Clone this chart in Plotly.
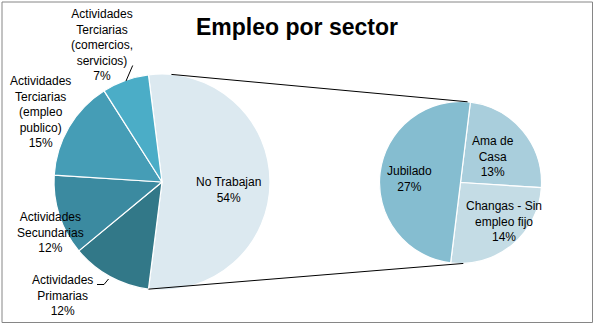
import math
import plotly.graph_objects as go

W, H = 595, 326

# ---- data ----
title_text = "Empleo por sector"
other_name = "No Trabajan"
main_names = ["Actividades<br>Primarias",
              "Actividades<br>Secundarias",
              "Actividades<br>Terciarias<br>(empleo<br>publico)",
              "Actividades<br>Terciarias<br>(comercios,<br>servicios)"]
main_values = [12, 12, 15, 7]
sub_names = ["Ama de<br>Casa", "Changas - Sin<br>empleo fijo", "Jubilado"]
sub_values = [13, 14, 27]

# ---- styles ----
left_colors = ["#DCE9F0", "#327888", "#3B8AA0", "#459DB6", "#4BADC7"]
right_colors = ["#A9CEDC", "#C4DCE5", "#85BDD0"]
FONT = "Liberation Sans, Arial, sans-serif"

other_value = sum(sub_values)
left_names = [other_name] + main_names
left_values = [other_value] + main_values
total = sum(left_values)

# pie geometry (pixels)
L_cx, L_cy, L_r = 162, 182, 108
R_cx, R_cy, R_r = 460.5, 182.5, 81
L_rot = 90 - other_value / total * 360 / 2
R_rot = 7


def px(x):
    return x / W


def py(y):
    return 1 - y / H


def dom(cx, cy, r):
    return dict(x=[px(cx - r), px(cx + r)], y=[py(cy + r), py(cy - r)])


fig = go.Figure()
fig.add_trace(go.Pie(
    labels=left_names, values=left_values, sort=False, direction="clockwise",
    rotation=L_rot, domain=dom(L_cx, L_cy, L_r), textinfo="none",
    marker=dict(colors=left_colors, line=dict(color="white", width=1.2)),
    showlegend=False, hoverinfo="label+percent"))
fig.add_trace(go.Pie(
    labels=sub_names, values=sub_values, sort=False, direction="clockwise",
    rotation=R_rot, domain=dom(R_cx, R_cy, R_r), textinfo="none",
    marker=dict(colors=right_colors, line=dict(color="white", width=1.2)),
    showlegend=False, hoverinfo="label+value"))

# label positions (pixel centers)
left_label_pos = [(228, 190), (62, 295), (50, 232), (40, 112), (102, 45)]
right_label_pos = [(493, 156), (504, 222), (409, 179)]

anns = []
for name, v, (x, y) in zip(left_names, left_values, left_label_pos):
    anns.append(dict(x=px(x), y=py(y), xref="paper", yref="paper", xanchor="center", yanchor="middle",
                     text=f"{name}<br>{round(v / total * 100)}%", showarrow=False,
                     font=dict(family=FONT, size=12, color="#000"), align="center"))
for name, v, (x, y) in zip(sub_names, sub_values, right_label_pos):
    anns.append(dict(x=px(x), y=py(y), xref="paper", yref="paper", xanchor="center", yanchor="middle",
                     text=f"{name}<br>{round(v / total * 100)}%", showarrow=False,
                     font=dict(family=FONT, size=12, color="#000"), align="center"))
anns.append(dict(x=px(296.5), y=py(27), xref="paper", yref="paper", xanchor="center", yanchor="middle",
                 text=f"<b>{title_text}</b>",
                 showarrow=False, font=dict(family=FONT, size=23, color="#000")))


def pt(cx, cy, r, deg):
    a = math.radians(deg)
    return cx + r * math.sin(a), cy - r * math.cos(a)


shapes = []
# connector lines between pies
end_other = L_rot + other_value / total * 360
for la, ra in [(5, 5), (end_other, 178)]:
    x0, y0 = pt(L_cx, L_cy, L_r, la)
    x1, y1 = pt(R_cx, R_cy, R_r, ra)
    shapes.append(dict(type="line", xref="paper", yref="paper", x0=px(x0), y0=py(y0),
                       x1=px(x1), y1=py(y1), line=dict(color="#000", width=1)))
# leader lines
for path in ["M {} {} L {} {}".format(px(132.7), py(65.5), px(126), py(81)),
             "M {} {} L {} {} L {} {}".format(px(97), py(284.5), px(104), py(284.5), px(108.5), py(279))]:
    shapes.append(dict(type="path", xref="paper", yref="paper", path=path,
                       line=dict(color="#000", width=1)))
# outer border
shapes.append(dict(type="rect", xref="paper", yref="paper", x0=px(2), y0=py(2), x1=px(592.5), y1=py(322.5),
                   line=dict(color="#868686", width=1)))

fig.update_layout(width=W, height=H, margin=dict(l=0, r=0, t=0, b=0),
                  paper_bgcolor="white", plot_bgcolor="white",
                  annotations=anns, shapes=shapes)

fig.write_html("out.html")
